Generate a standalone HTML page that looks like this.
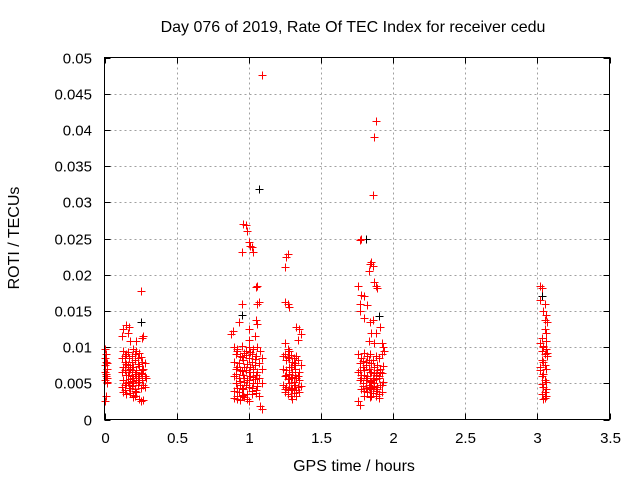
<!DOCTYPE html>
<html><head><meta charset="utf-8"><style>
html,body{margin:0;padding:0;background:#fff;}
svg text{font-family:"Liberation Sans",sans-serif;font-size:15px;fill:#000;}
svg text.big{font-size:16px;}
</style></head><body>
<svg id="chart" width="640" height="480" xmlns="http://www.w3.org/2000/svg">
<rect width="640" height="480" fill="#fff"/>
<text class="big" x="353" y="32" text-anchor="middle">Day 076 of 2019, Rate Of TEC Index for receiver cedu</text>
<text class="big" x="354" y="471" text-anchor="middle">GPS time / hours</text>
<text class="big" x="19" y="238" text-anchor="middle" transform="rotate(-90 19 238)">ROTI / TECUs</text>
<g id="grid"></g><g id="ticks"></g><g id="marks"></g>
<rect x="104.5" y="57.5" width="505" height="362" fill="none" stroke="#000" stroke-width="1"/>
</svg>
<script>
const xTicks=[0,0.5,1,1.5,2,2.5,3,3.5];
const xTickLabels=["0","0.5","1","1.5","2","2.5","3","3.5"];
const yTicks=[0,0.005,0.01,0.015,0.02,0.025,0.03,0.035,0.04,0.045,0.05];
const yTickLabels=["0","0.005","0.01","0.015","0.02","0.025","0.03","0.035","0.04","0.045","0.05"];
const redTimes=[0.005,0.01,0.005,0.01,0.005,0.015,0.005,0.01,0.02,0.005,0.015,0.01,0.01,0.005,0.02,0.02,
0.13,0.15,0.17,0.12,0.16,0.18,0.22,0.25,0.27,0.26,0.13,0.15,0.2,0.22,0.24,0.12,0.14,0.17,0.19,0.21,0.23,0.26,0.28,0.13,0.16,0.18,0.2,0.22,0.24,0.27,0.12,0.15,0.17,0.19,0.21,0.23,0.25,0.28,0.13,0.16,0.18,0.2,0.22,0.24,0.26,0.12,0.14,0.17,0.19,0.21,0.23,0.25,0.27,0.13,0.15,0.18,0.2,0.22,0.24,0.25,0.27,0.28,0.29,
0.9,0.92,0.95,0.98,1.0,1.03,1.06,1.08,0.91,0.94,0.97,1.0,1.02,1.05,1.09,0.9,0.93,0.96,0.99,1.02,1.04,1.07,0.91,0.94,0.97,1.0,1.03,1.06,1.09,0.9,0.93,0.96,0.99,1.01,1.04,1.07,0.91,0.94,0.97,1.0,1.03,1.06,1.09,0.9,0.93,0.96,0.99,1.02,1.05,0.9,0.92,0.95,1.07,1.08,1.09,
0.89,0.88,0.93,0.95,1.0,1.05,1.06,1.06,1.07,1.05,1.06,0.95,0.96,0.98,0.99,1.0,1.01,1.02,1.03,1.09,1.0,1.04,
1.26,1.27,1.25,1.25,1.27,1.28,1.25,1.27,1.28,1.33,1.35,1.36,1.34,1.24,1.26,1.28,1.3,1.32,1.34,1.36,1.24,1.26,1.28,1.3,1.32,1.35,1.25,1.27,1.29,1.31,1.33,1.35,1.24,1.26,1.28,1.3,1.32,1.34,1.36,1.25,1.27,1.29,1.31,1.33,1.35,
1.77,1.78,1.84,1.85,1.86,1.83,1.87,1.88,1.89,1.76,1.78,1.8,1.77,1.77,1.82,1.8,1.86,1.84,1.88,1.85,1.91,1.92,1.93,1.94,1.87,1.83,1.86,1.88,1.87,
1.76,1.78,1.8,1.82,1.84,1.86,1.88,1.9,1.92,1.77,1.79,1.81,1.83,1.85,1.87,1.89,1.91,1.93,1.76,1.78,1.8,1.82,1.84,1.86,1.88,1.9,1.92,1.77,1.79,1.81,1.83,1.85,1.87,1.89,1.91,1.93,1.78,1.8,1.82,1.84,1.86,1.88,1.9,1.92,1.76,1.77,1.85,1.9,
3.02,3.03,3.02,3.05,3.04,3.06,3.05,3.07,3.05,3.06,3.03,3.02,3.04,3.06,3.03,3.05,3.07,3.04,3.02,3.06,3.03,3.05,3.04,3.06,3.03,3.05,3.04,3.06,3.02,3.07,
0.14,0.16,0.19,0.21,0.23,0.25,0.14,0.16,0.18,0.2,0.22,0.26,0.15,0.17,0.19,0.21,0.24,0.14,0.18,0.2,0.23,0.26,0.15,0.19,0.21,
0.92,0.95,0.98,1.01,1.04,0.92,0.95,0.98,1.01,1.05,0.91,0.94,0.97,1.0,1.03,1.06,0.92,0.95,0.98,1.02,1.05,0.92,0.96,0.99,1.02,0.94,0.97,1.0,
1.25,1.27,1.29,1.31,1.33,1.26,1.28,1.3,1.32,1.34,1.25,1.27,1.29,1.31,1.33,1.29,1.31,1.3,
1.77,1.79,1.81,1.83,1.85,1.87,1.89,1.91,1.78,1.8,1.82,1.84,1.86,1.88,1.9,1.79,1.81,1.83,1.85,1.87,1.89,1.92,1.8,1.84,1.88,
3.03,3.05,3.04,3.06,3.03,3.05,3.04,3.06];
const redRoti=[0.0098,0.009,0.0085,0.008,0.0075,0.007,0.0065,0.006,0.0058,0.0055,0.005,0.0063,0.0032,0.0025,0.0078,0.0052,
0.0125,0.013,0.0128,0.0115,0.012,0.0108,0.0108,0.0178,0.0115,0.0113,0.0095,0.009,0.0098,0.0095,0.0092,0.0085,0.008,0.0085,0.0088,0.0082,0.0085,0.008,0.0078,0.0072,0.0075,0.007,0.0072,0.0068,0.0074,0.007,0.0065,0.0062,0.0066,0.006,0.0063,0.006,0.0064,0.006,0.0055,0.0052,0.0056,0.005,0.0054,0.0052,0.0055,0.0045,0.0048,0.0044,0.0046,0.0042,0.0047,0.0043,0.0048,0.0038,0.0035,0.0037,0.0034,0.0038,0.0028,0.0025,0.0027,0.0045,0.0058,
0.01,0.0098,0.0102,0.0095,0.01,0.0098,0.01,0.0095,0.009,0.0088,0.0092,0.0085,0.009,0.0088,0.0085,0.008,0.0078,0.0082,0.0076,0.008,0.0075,0.0078,0.007,0.0068,0.0072,0.0065,0.007,0.0066,0.007,0.006,0.0058,0.0062,0.0055,0.006,0.0056,0.0058,0.005,0.0048,0.0052,0.0045,0.005,0.0046,0.005,0.004,0.0038,0.0042,0.0035,0.004,0.0036,0.003,0.0028,0.0032,0.0032,0.0018,0.0015,
0.0122,0.0118,0.0135,0.016,0.0125,0.0138,0.0132,0.016,0.0162,0.0183,0.0185,0.0232,0.027,0.0268,0.026,0.0245,0.024,0.0238,0.0232,0.0476,0.011,0.0115,
0.0225,0.0228,0.021,0.0162,0.016,0.0155,0.0105,0.0098,0.0095,0.0128,0.0125,0.0118,0.011,0.0088,0.0082,0.0085,0.008,0.0078,0.0082,0.0075,0.007,0.0068,0.0072,0.0065,0.007,0.0066,0.006,0.0056,0.0058,0.0052,0.0058,0.0055,0.0048,0.0045,0.005,0.0042,0.0048,0.0045,0.0046,0.0038,0.0035,0.0032,0.0036,0.0033,0.0038,
0.0248,0.025,0.0215,0.0218,0.0212,0.0205,0.019,0.0185,0.0182,0.0185,0.0172,0.017,0.016,0.015,0.0158,0.014,0.0138,0.0135,0.012,0.012,0.0128,0.0105,0.01,0.0095,0.0105,0.0108,0.031,0.0412,0.039,
0.009,0.0085,0.0092,0.0088,0.009,0.0082,0.0088,0.0085,0.009,0.0078,0.0072,0.0075,0.007,0.0078,0.0072,0.0075,0.007,0.0074,0.0065,0.0062,0.0068,0.006,0.0065,0.0058,0.0062,0.006,0.0064,0.0055,0.005,0.0055,0.0048,0.0052,0.005,0.0045,0.0048,0.0052,0.0042,0.004,0.0038,0.0042,0.0036,0.004,0.0035,0.0038,0.0025,0.002,0.0032,0.003,
0.0185,0.0182,0.0165,0.016,0.015,0.0145,0.0138,0.0135,0.0125,0.012,0.0112,0.0105,0.01,0.0098,0.0095,0.009,0.0088,0.008,0.0072,0.007,0.006,0.0055,0.0045,0.0042,0.0035,0.003,0.0028,0.0032,0.0068,0.0092,
0.0088,0.0093,0.0079,0.0091,0.0077,0.0087,0.0068,0.0061,0.0073,0.0057,0.0066,0.0069,0.0051,0.0047,0.0053,0.0039,0.0058,0.0041,0.0044,0.0031,0.0052,0.0063,0.0076,0.0069,0.0033,
0.0094,0.0087,0.0089,0.0093,0.0083,0.0073,0.0067,0.0069,0.0073,0.0062,0.0063,0.0053,0.0057,0.0054,0.0059,0.0051,0.0043,0.0044,0.0047,0.0043,0.0041,0.0033,0.0034,0.0029,0.0035,0.0027,0.0031,0.0025,
0.0091,0.0087,0.0089,0.0085,0.0088,0.0062,0.0063,0.0059,0.0061,0.006,0.0042,0.0041,0.0044,0.0047,0.0041,0.0073,0.0075,0.0028,
0.0068,0.0081,0.0079,0.0082,0.0066,0.0064,0.0068,0.0066,0.0057,0.0061,0.0058,0.0053,0.0054,0.0056,0.0057,0.0046,0.0044,0.0045,0.0043,0.0046,0.0042,0.0047,0.0032,0.0031,0.0033,
0.0082,0.0075,0.0063,0.0052,0.0049,0.0038,0.0102,0.0108];
const blackTimes=[0.256,1.07,0.95,1.81,1.9,3.03];
const blackRoti=[0.0135,0.0318,0.0145,0.0249,0.0143,0.017];

const L=104.5,R=609.5,T=57.5,B=419.5;
const xS=v=>L+(v-0)/3.5*(R-L);
const yS=v=>B-(v-0)/0.05*(B-T);
const NS='http://www.w3.org/2000/svg';
function mk(tag,attrs,parent){const e=document.createElementNS(NS,tag);for(const k in attrs)e.setAttribute(k,attrs[k]);parent.appendChild(e);return e;}
const grid=document.getElementById('grid'),ticks=document.getElementById('ticks'),marks=document.getElementById('marks');
xTicks.forEach((v,i)=>{const x=Math.round(xS(v))+0.5;
 if(v>0&&v<3.5){const g=mk('line',{x1:x,x2:x,y1:T,y2:B,stroke:'#a0a0a0','stroke-dasharray':'2,3'},grid);
 
 }
 mk('line',{x1:x,x2:x,y1:B,y2:B-6,stroke:'#000'},ticks);
 mk('line',{x1:x,x2:x,y1:T,y2:T+6,stroke:'#000'},ticks);
 const t=mk('text',{x:x,y:443,'text-anchor':'middle'},ticks);t.textContent=xTickLabels[i];
 
 });
yTicks.forEach((v,i)=>{const y=Math.round(yS(v))+0.5;
 if(v>0&&v<0.05){const g=mk('line',{x1:L,x2:R,y1:y,y2:y,stroke:'#a0a0a0','stroke-dasharray':'2,3'},grid);
 
 }
 mk('line',{x1:L,x2:L+6,y1:y,y2:y,stroke:'#000'},ticks);
 mk('line',{x1:R,x2:R-6,y1:y,y2:y,stroke:'#000'},ticks);
 const t=mk('text',{x:92,y:y+5,'text-anchor':'end'},ticks);t.textContent=yTickLabels[i];
 
 });
function plus(xv,yv,col,name){const x=Math.round(xS(xv))+0.5,y=Math.round(yS(yv))+0.5;
 const p=mk('path',{d:`M${x-4} ${y}H${x+4}M${x} ${y-4}V${y+4}`,stroke:col,'stroke-width':1,fill:'none'},marks);
 
 }
blackTimes.forEach((v,i)=>plus(v,blackRoti[i],'#000','roti-point-black'));
redTimes.forEach((v,i)=>plus(v,redRoti[i],'#ff0000','roti-point'));
</script>
</body></html>
